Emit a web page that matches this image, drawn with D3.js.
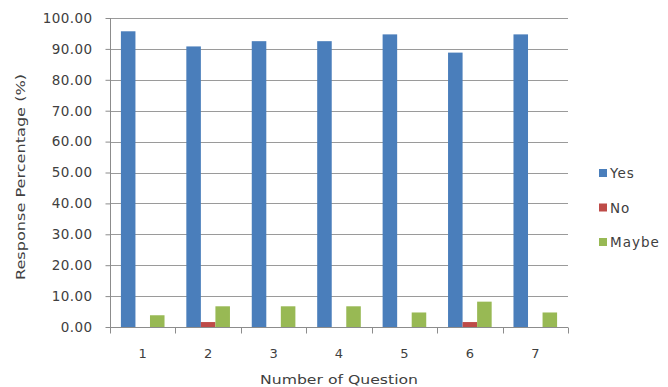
<!DOCTYPE html>
<html>
<head>
<meta charset="utf-8">
<script src="https://cdn.jsdelivr.net/npm/d3@7"></script>
<style>
  html, body { margin: 0; padding: 0; background: #fff; }
  svg { display: block; }
  text { font-family: "DejaVu Sans", Verdana, sans-serif; fill: #404040; }
</style>
</head>
<body>
<svg id="chart" width="668" height="387"></svg>
<script>
// Survey answers per question, in percent
const questions = ["1", "2", "3", "4", "5", "6", "7"];
const yesValues = [95.7, 90.8, 92.5, 92.5, 94.7, 88.8, 94.7];
const noValues = [0, 1.6, 0, 0, 0, 1.6, 0];
const maybeValues = [3.8, 6.7, 6.7, 6.7, 4.7, 8.2, 4.7];
const seriesNames = ["Yes", "No", "Maybe"];
const seriesColors = ["#4a7ebb", "#be4b48", "#98b954"];
const yTicks = [0, 10, 20, 30, 40, 50, 60, 70, 80, 90, 100];

const seriesValues = [yesValues, noValues, maybeValues];
const rows = questions.map((q, i) => ({
  q,
  vals: seriesNames.map((name, s) => ({ name, value: seriesValues[s][i] }))
}));

const svg = d3.select("#chart");
const plot = { left: 110, right: 568, top: 18, bottom: 327 };

const x = d3.scaleBand().domain(questions).range([plot.left, plot.right]).paddingInner(0).paddingOuter(0);
// Excel-style gap: the group of three bars fills 3 of every 4.5 bar widths
const inner = d3.scaleBand().domain(seriesNames)
  .range([x.bandwidth() * 0.75 / 4.5, x.bandwidth() - x.bandwidth() * 0.75 / 4.5]);
const y = d3.scaleLinear().domain([0, 100]).range([plot.bottom, plot.top]);

// horizontal gridlines
svg.append("g")
  .selectAll("line")
  .data(yTicks.filter(d => d > 0))
  .join("line")
  .attr("x1", plot.left).attr("x2", plot.right)
  .attr("y1", d => Math.round(y(d)) + 0.5).attr("y2", d => Math.round(y(d)) + 0.5)
  .attr("stroke", "#9a9a9a").attr("stroke-width", 1);

// bars
svg.append("g")
  .selectAll("g")
  .data(rows)
  .join("g")
  .attr("transform", d => `translate(${x(d.q)},0)`)
  .selectAll("rect")
  .data(d => d.vals)
  .join("rect")
  .attr("x", d => inner(d.name))
  .attr("width", inner.bandwidth())
  .attr("y", d => y(d.value))
  .attr("height", d => y(0) - y(d.value))
  .attr("fill", (d, i) => seriesColors[i]);

// y axis
const yAxis = svg.append("g")
  .attr("transform", `translate(${plot.left + 0.5},0)`)
  .call(d3.axisLeft(y).tickValues(yTicks).tickFormat(d3.format(".2f")).tickSize(5).tickPadding(13));
yAxis.select(".domain").attr("stroke", "#8c8c8c").attr("d", `M0,${plot.top}V${plot.bottom}`);
yAxis.selectAll(".tick line").attr("stroke", "#8c8c8c");
yAxis.selectAll(".tick text").attr("font-size", 13.5).attr("fill", "#4a4a4a")
  .attr("font-family", "DejaVu Sans").attr("letter-spacing", "0.4");

// x axis: tick marks sit between the categories
const xAxis = svg.append("g")
  .attr("transform", `translate(0,${plot.bottom + 0.5})`);
xAxis.append("line")
  .attr("x1", plot.left).attr("x2", plot.right)
  .attr("stroke", "#8c8c8c");
xAxis.selectAll("line.sep")
  .data(questions.map(q => x(q)).concat([plot.right]))
  .join("line")
  .attr("class", "sep")
  .attr("x1", d => Math.round(d) + 0.5).attr("x2", d => Math.round(d) + 0.5)
  .attr("y1", 0).attr("y2", 6)
  .attr("stroke", "#8c8c8c");
xAxis.selectAll("text")
  .data(questions)
  .join("text")
  .attr("x", d => x(d) + x.bandwidth() / 2)
  .attr("y", 30)
  .attr("text-anchor", "middle")
  .attr("font-size", 13)
  .attr("fill", "#4a4a4a")
  .text(d => d);

// axis titles
svg.append("text")
  .attr("transform", "translate(25,177) rotate(-90)")
  .attr("text-anchor", "middle")
  .attr("font-size", 13)
  .attr("textLength", 206)
  .attr("lengthAdjust", "spacingAndGlyphs")
  .text("Response Percentage (%)");

svg.append("text")
  .attr("x", 339).attr("y", 384)
  .attr("text-anchor", "middle")
  .attr("font-size", 13)
  .attr("textLength", 158)
  .attr("lengthAdjust", "spacingAndGlyphs")
  .text("Number of Question");

// legend
const legend = svg.append("g")
  .selectAll("g")
  .data(seriesNames)
  .join("g")
  .attr("transform", (d, i) => `translate(599,${173 + i * 34.5})`);
legend.append("rect")
  .attr("x", 0).attr("y", -4).attr("width", 8).attr("height", 8)
  .attr("fill", (d, i) => seriesColors[i]);
legend.append("text")
  .attr("x", 11).attr("y", 5)
  .attr("font-size", 13.5)
  .attr("letter-spacing", "1")
  .text(d => d);
</script>
</body>
</html>
